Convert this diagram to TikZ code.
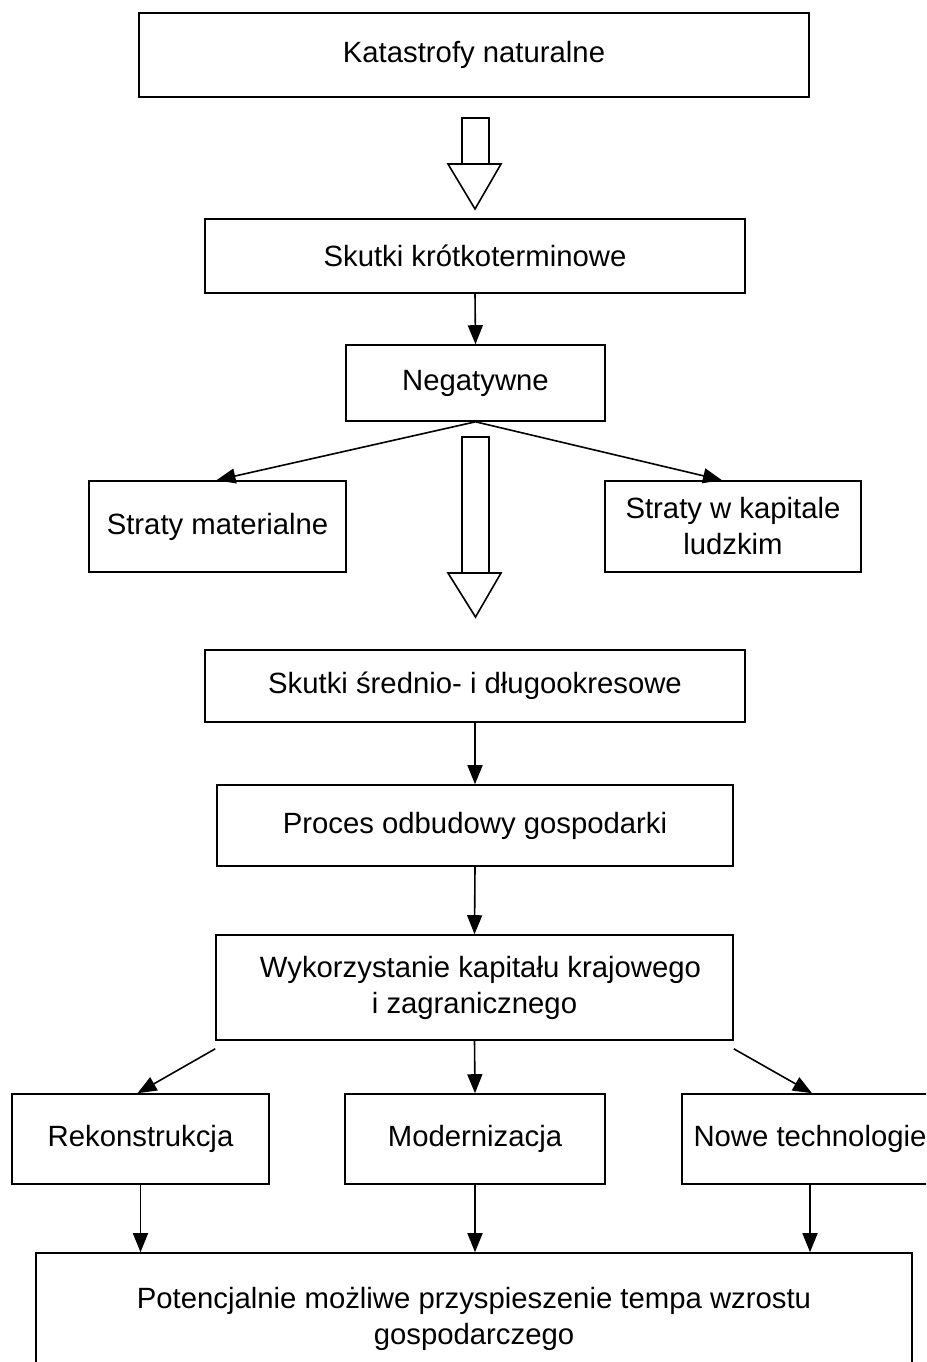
\documentclass[tikz,border=0pt]{standalone}
\usepackage{fontspec}
\setmainfont{Liberation Sans}
\usetikzlibrary{arrows.meta}
\begin{document}
\begin{tikzpicture}[x=1pt,y=-1pt,
  every node/.style={font=\fontsize{29.3}{36}\selectfont},
  box/.style={draw=black,line width=1.6pt,rectangle,inner sep=0pt,align=center,fill=white},
  arr/.style={draw=black,line width=1.6pt,-{Triangle[length=19pt,width=15pt]}},
  blockarrow/.style={draw=black,line width=1.6pt,fill=white,line join=miter}]
\useasboundingbox (0,0) rectangle (926,1362);
\clip (0,0) rectangle (926,1362);

% boxes
\node[box,minimum width=670pt,minimum height=84pt] (kat) at (474,55) {Katastrofy naturalne};
\node[box,minimum width=540pt,minimum height=74pt] (skr) at (475,256) {Skutki krótkoterminowe};
\node[box,minimum width=259pt,minimum height=76pt] (neg) at (475.5,383) {Negatywne};
\node[box,minimum width=257pt,minimum height=91pt] (smat) at (217.5,526.5) {Straty materialne};
\node[box,minimum width=256pt,minimum height=91pt] (skap) at (733,526.5) {Straty w kapitale\\ludzkim};
\node[box,minimum width=540pt,minimum height=72pt] (ssd) at (475,686) {Skutki średnio- i długookresowe};
\node[box,minimum width=516pt,minimum height=81pt] (pro) at (475,825.5) {Proces odbudowy gospodarki};
\node[box,minimum width=517pt,minimum height=105pt] (wyk) at (474.5,987.5) {\hspace*{12pt}Wykorzystanie kapitału krajowego\\i zagranicznego};
\node[box,minimum width=257pt,minimum height=90pt] (rek) at (140.5,1139) {Rekonstrukcja};
\node[box,minimum width=260pt,minimum height=90pt] (mod) at (475,1139) {Modernizacja};
\node[box,minimum width=256pt,minimum height=90pt] (now) at (810,1139) {Nowe technologie};
\node[box,minimum width=876pt,minimum height=132pt] (pot) at (474,1319) {Potencjalnie możliwe przyspieszenie tempa wzrostu\\gospodarczego};

% hollow block arrows
\coordinate (ba1) at (475,118);
\coordinate (ba2) at (475.5,437);
\draw[blockarrow] ([xshift=-13pt]ba1) rectangle ([xshift=14pt,yshift=-46pt]ba1);
\draw[blockarrow] ([xshift=-27pt,yshift=-46pt]ba1) -- ([xshift=26pt,yshift=-46pt]ba1) -- ([yshift=-91pt]ba1) -- cycle;
\draw[blockarrow] ([xshift=-13.5pt]ba2) rectangle ([xshift=13.5pt,yshift=-136pt]ba2);
\draw[blockarrow] ([xshift=-27.5pt,yshift=-136pt]ba2) -- ([xshift=25.5pt,yshift=-136pt]ba2) -- ([yshift=-180pt]ba2) -- cycle;

% connectors
\draw[arr] (skr.south) -- (neg.north);
\draw[arr] (neg.south) -- ([xshift=-1pt]smat.north);
\draw[arr] (neg.south) -- ([xshift=-11pt]skap.north);
\draw[arr] (ssd.south) -- (pro.north);
\draw[arr] (pro.south) -- (wyk.north);
\draw[arr] ([yshift=-8pt]wyk.south west) -- ([xshift=-3pt]rek.north);
\draw[arr] (wyk.south) -- (mod.north);
\draw[arr] ([yshift=-8pt]wyk.south east) -- ([xshift=2pt]now.north);
\draw[arr] (rek.south) -- (rek.south |- pot.north);
\draw[arr] (mod.south) -- (mod.south |- pot.north);
\draw[arr] (now.south) -- (now.south |- pot.north);
\end{tikzpicture}
\end{document}
